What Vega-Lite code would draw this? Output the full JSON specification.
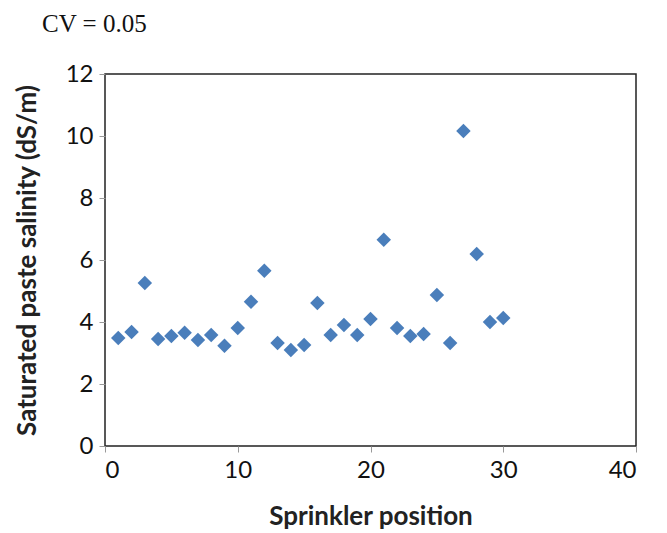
{
  "$schema": "https://vega.github.io/schema/vega-lite/v6.json",
  "width": 531,
  "height": 372,
  "autosize": "none",
  "padding": {"left": 105, "top": 74, "right": 31, "bottom": 87},
  "background": "white",
  "title": {
    "text": "CV = 0.05",
    "font": "Liberation Serif",
    "fontSize": 25,
    "fontWeight": "normal",
    "color": "#111111",
    "anchor": "start",
    "frame": "group",
    "baseline": "alphabetic",
    "dx": -63,
    "offset": 5
  },
  "config": {
    "view": {"stroke": "#222222", "strokeWidth": 1.5},
    "axis": {
      "grid": false,
      "domain": false,
      "tickColor": "#999999",
      "tickSize": 6,
      "labelFont": "Lato",
      "labelFontSize": 24,
      "labelColor": "#111111",
      "titleFont": "Lato",
      "titleFontSize": 26,
      "titleFontWeight": "bold",
      "titleColor": "#222222"
    }
  },
  "data": {
    "values": [
      {"pos": 1, "salinity": 3.48},
      {"pos": 2, "salinity": 3.68},
      {"pos": 3, "salinity": 5.26},
      {"pos": 4, "salinity": 3.45},
      {"pos": 5, "salinity": 3.55},
      {"pos": 6, "salinity": 3.65},
      {"pos": 7, "salinity": 3.42},
      {"pos": 8, "salinity": 3.58},
      {"pos": 9, "salinity": 3.23},
      {"pos": 10, "salinity": 3.81},
      {"pos": 11, "salinity": 4.65},
      {"pos": 12, "salinity": 5.65},
      {"pos": 13, "salinity": 3.32},
      {"pos": 14, "salinity": 3.1},
      {"pos": 15, "salinity": 3.26},
      {"pos": 16, "salinity": 4.61},
      {"pos": 17, "salinity": 3.58},
      {"pos": 18, "salinity": 3.9},
      {"pos": 19, "salinity": 3.58},
      {"pos": 20, "salinity": 4.1},
      {"pos": 21, "salinity": 6.65},
      {"pos": 22, "salinity": 3.81},
      {"pos": 23, "salinity": 3.55},
      {"pos": 24, "salinity": 3.61},
      {"pos": 25, "salinity": 4.87},
      {"pos": 26, "salinity": 3.32},
      {"pos": 27, "salinity": 10.16},
      {"pos": 28, "salinity": 6.19},
      {"pos": 29, "salinity": 4.0},
      {"pos": 30, "salinity": 4.13}
    ]
  },
  "mark": {"type": "point", "shape": "diamond", "filled": true, "size": 210, "color": "#4A7EBB", "opacity": 1},
  "encoding": {
    "x": {
      "field": "pos",
      "type": "quantitative",
      "scale": {"domain": [0, 40], "nice": false},
      "axis": {"values": [0, 10, 20, 30, 40], "title": "Sprinkler position", "titlePadding": 21, "labelPadding": 6}
    },
    "y": {
      "field": "salinity",
      "type": "quantitative",
      "scale": {"domain": [0, 12], "nice": false},
      "axis": {"values": [0, 2, 4, 6, 8, 10, 12], "title": "Saturated paste salinity (dS/m)", "titlePadding": 25, "labelPadding": 6}
    }
  }
}
